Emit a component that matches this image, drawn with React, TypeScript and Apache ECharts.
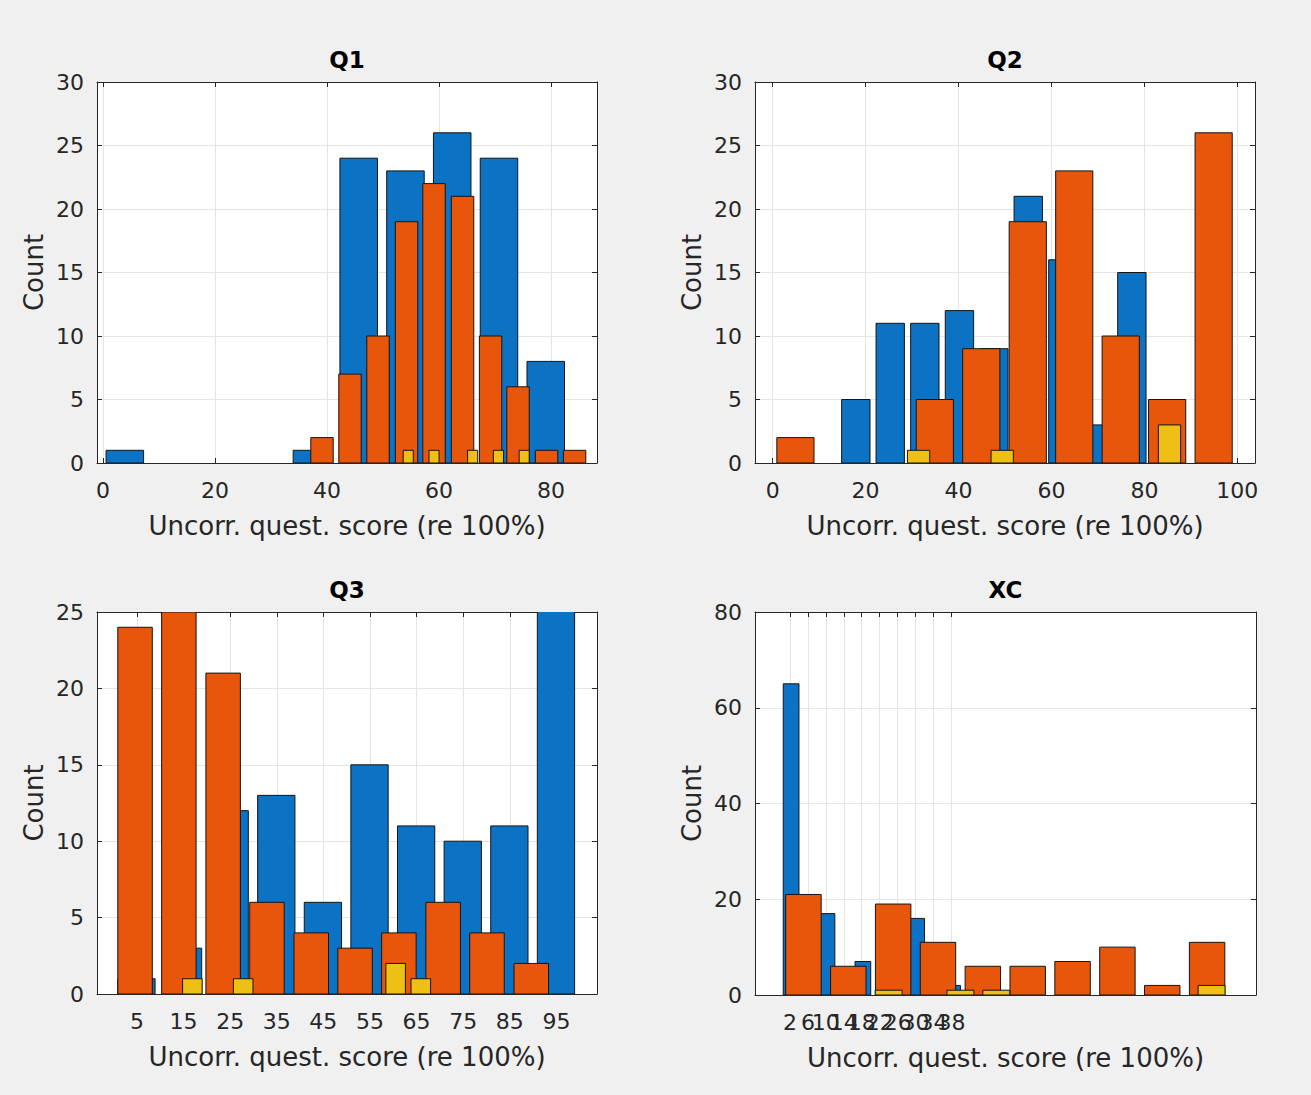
import React, { useEffect, useRef } from "react";
import * as echarts from "echarts";

// ---------- data ----------
// Q1
const q1BlueCenters = [3.9, 12.25, 20.6, 28.95, 37.3, 45.65, 54.0, 62.35, 70.7, 79.05];
const q1BlueCounts = [1, 0, 0, 0, 1, 24, 23, 26, 24, 8];
const q1OrangeCenters = [39.1, 44.1, 49.1, 54.2, 59.1, 64.2, 69.2, 74.1, 79.2, 84.2];
const q1OrangeCounts = [2, 7, 10, 19, 22, 21, 10, 6, 1, 1];
const q1YellowCenters = [54.5, 59.1, 66.0, 70.6, 75.2];
const q1YellowCounts = [1, 1, 1, 1, 1];
const q1XTicks = [0, 20, 40, 60, 80];

// Q2
const q2BlueCenters = [17.9, 25.3, 32.75, 40.2, 47.6, 55.0, 62.45, 69.9, 77.3];
const q2BlueCounts = [5, 11, 11, 12, 9, 21, 16, 3, 15];
const q2OrangeCenters = [4.9, 14.9, 24.9, 34.9, 44.9, 54.9, 64.9, 74.9, 84.9, 94.9];
const q2OrangeCounts = [2, 0, 0, 5, 9, 19, 23, 10, 5, 26];
const q2YellowCenters = [31.4, 49.4, 85.4];
const q2YellowCounts = [1, 1, 3];
const q2XTicks = [0, 20, 40, 60, 80, 100];

// Q3
const q3BlueCenters = [4.9, 14.9, 24.9, 34.9, 44.9, 54.9, 64.9, 74.9, 84.9, 94.9];
const q3BlueCounts = [1, 3, 12, 13, 6, 15, 11, 10, 11, 28];
const q3OrangeCenters = [4.6, 14.0, 23.5, 32.9, 42.4, 51.8, 61.2, 70.7, 80.1, 89.6];
const q3OrangeCounts = [24, 25, 21, 6, 4, 3, 4, 6, 4, 2];
const q3YellowCenters = [16.9, 27.8, 60.5, 65.9];
const q3YellowCounts = [1, 1, 2, 1];
const q3XTicks = [5, 15, 25, 35, 45, 55, 65, 75, 85, 95];

// XC
const xcBlueCenters = [2.25, 6.25, 10.25, 14.25, 18.25, 22.25, 26.25, 30.25, 34.25, 38.25];
const xcBlueCounts = [65, 0, 17, 0, 7, 0, 0, 16, 0, 2];
const xcOrangeCenters = [5, 15, 25, 35, 45, 55, 65, 75, 85, 95];
const xcOrangeCounts = [21, 6, 19, 11, 6, 6, 7, 10, 2, 11];
const xcYellowCenters = [24, 40, 48, 96];
const xcYellowCounts = [1, 1, 1, 2];
const xcXTicks = [2, 6, 10, 14, 18, 22, 26, 30, 34, 38];

const titles = ["Q1", "Q2", "Q3", "XC"];
const xName = "Uncorr. quest. score (re 100%)";
const yName = "Count";

// ---------- styling ----------
const BLUE = "#0b72c4";
const ORANGE = "#e8560c";
const YELLOW = "#eebf14";
const AXIS = "#262626";
const GRIDC = "#e4e4e4";
const FONT = "DejaVu Sans";

type Panel = {
  title: string;
  grid: { left: number; top: number; width: number; height: number };
  xMin: number;
  xMax: number;
  xTicks: number[];
  splitLabels?: boolean;
  yMax: number;
  yStep: number;
  bars: { centers: number[]; counts: number[]; binW: number; color: string }[];
};

const panels: Panel[] = [
  {
    title: titles[0],
    grid: { left: 97, top: 82, width: 500, height: 381 },
    xMin: -1.07,
    xMax: 88.2,
    xTicks: q1XTicks,
    yMax: 30,
    yStep: 5,
    bars: [
      { centers: q1BlueCenters, counts: q1BlueCounts, binW: 6.7, color: BLUE },
      { centers: q1OrangeCenters, counts: q1OrangeCounts, binW: 4.0, color: ORANGE },
      { centers: q1YellowCenters, counts: q1YellowCounts, binW: 1.8, color: YELLOW },
    ],
  },
  {
    title: titles[1],
    grid: { left: 755, top: 82, width: 500, height: 381 },
    xMin: -3.8,
    xMax: 103.8,
    xTicks: q2XTicks,
    yMax: 30,
    yStep: 5,
    bars: [
      { centers: q2BlueCenters, counts: q2BlueCounts, binW: 6.1, color: BLUE },
      { centers: q2OrangeCenters, counts: q2OrangeCounts, binW: 8.0, color: ORANGE },
      { centers: q2YellowCenters, counts: q2YellowCounts, binW: 4.8, color: YELLOW },
    ],
  },
  {
    title: titles[2],
    grid: { left: 97, top: 612, width: 500, height: 382 },
    xMin: -3.56,
    xMax: 103.7,
    xTicks: q3XTicks,
    yMax: 25,
    yStep: 5,
    bars: [
      { centers: q3BlueCenters, counts: q3BlueCounts, binW: 8.0, color: BLUE },
      { centers: q3OrangeCenters, counts: q3OrangeCounts, binW: 7.4, color: ORANGE },
      { centers: q3YellowCenters, counts: q3YellowCounts, binW: 4.2, color: YELLOW },
    ],
  },
  {
    title: titles[3],
    grid: { left: 755, top: 612, width: 501, height: 383 },
    xMin: -5.8,
    xMax: 105.9,
    xTicks: xcXTicks,
    splitLabels: true,
    yMax: 80,
    yStep: 20,
    bars: [
      { centers: xcBlueCenters, counts: xcBlueCounts, binW: 3.5, color: BLUE },
      { centers: xcOrangeCenters, counts: xcOrangeCounts, binW: 7.9, color: ORANGE },
      { centers: xcYellowCenters, counts: xcYellowCounts, binW: 6.0, color: YELLOW },
    ],
  },
];

const labelStyle = {
  fontSize: 22,
  fontFamily: FONT,
  color: AXIS,
};

function buildOption() {
  const grid: any[] = [];
  const xAxis: any[] = [];
  const yAxis: any[] = [];
  const series: any[] = [];
  const graphic: any[] = [];

  panels.forEach((p, i) => {
    grid.push({
      ...p.grid,
      show: true,
      backgroundColor: "#ffffff",
      borderWidth: 0,
      containLabel: false,
    });
    const axisLine = { show: true, onZero: false, lineStyle: { color: AXIS, width: 1 } };
    const xIdx = xAxis.length;
    // bottom x
    xAxis.push({
      type: "value",
      gridIndex: i,
      position: "bottom",
      min: p.xMin,
      max: p.xMax,
      axisLine,
      axisTick: { show: true, inside: true, length: 5, customValues: p.xTicks, lineStyle: { color: AXIS } },
      axisLabel: {
        show: !p.splitLabels,
        customValues: p.xTicks,
        ...labelStyle,
        margin: 16,
        hideOverlap: false,
      },
      splitLine: { show: true, lineStyle: { color: GRIDC, width: 1 } },
      name: xName,
      nameLocation: "middle",
      nameGap: 50,
      nameTextStyle: { fontSize: 26, fontFamily: FONT, color: AXIS },
    });
    // top x
    xAxis.push({
      type: "value",
      gridIndex: i,
      position: "top",
      min: p.xMin,
      max: p.xMax,
      axisLine,
      axisTick: { show: true, inside: true, length: 5, customValues: p.xTicks, lineStyle: { color: AXIS } },
      axisLabel: { show: false },
      splitLine: { show: false },
    });
    // crowded tick labels: two label-only axes (alternate ticks) so none is dropped
    if (p.splitLabels) {
      [0, 1].forEach((parity) => {
        const vals = p.xTicks.filter((_, k) => k % 2 === parity);
        xAxis.push({
          type: "value",
          gridIndex: i,
          position: "bottom",
          min: p.xMin,
          max: p.xMax,
          axisLine: { show: false, onZero: false },
          axisTick: { show: false, customValues: vals },
          axisLabel: { show: true, customValues: vals, ...labelStyle, margin: 16, hideOverlap: false },
          splitLine: { show: false },
        });
      });
    }
    const yIdx = yAxis.length;
    // left y
    yAxis.push({
      type: "value",
      gridIndex: i,
      position: "left",
      min: 0,
      max: p.yMax,
      interval: p.yStep,
      axisLine,
      axisTick: { show: true, inside: true, length: 5, lineStyle: { color: AXIS } },
      axisLabel: { show: true, ...labelStyle, margin: 13 },
      splitLine: { show: true, lineStyle: { color: GRIDC, width: 1 } },
      name: yName,
      nameLocation: "middle",
      nameGap: 50,
      nameRotate: 90,
      nameTextStyle: { fontSize: 26, fontFamily: FONT, color: AXIS },
    });
    // right y
    yAxis.push({
      type: "value",
      gridIndex: i,
      position: "right",
      min: 0,
      max: p.yMax,
      interval: p.yStep,
      axisLine,
      axisTick: { show: true, inside: true, length: 5, lineStyle: { color: AXIS } },
      axisLabel: { show: false },
      splitLine: { show: false },
    });

    p.bars.forEach((b) => {
      const binW = b.binW;
      const color = b.color;
      series.push({
        type: "custom",
        xAxisIndex: xIdx,
        yAxisIndex: yIdx,
        clip: true,
        encode: { x: 0, y: 1 },
        data: b.centers.map((c, k) => [c, b.counts[k]]).filter((d) => d[1] > 0),
        renderItem: (params: any, api: any) => {
          const c = api.value(0);
          const v = api.value(1);
          const a = api.coord([c - binW / 2, v]);
          const z = api.coord([c + binW / 2, 0]);
          return {
            type: "rect",
            shape: { x: a[0], y: a[1], width: z[0] - a[0], height: z[1] - a[1] },
            style: { fill: color, stroke: "#151515", lineWidth: 1 },
          };
        },
      });
    });

    graphic.push({
      type: "text",
      x: p.grid.left + p.grid.width / 2,
      y: p.grid.top - 22,
      style: {
        text: p.title,
        align: "center",
        verticalAlign: "middle",
        font: `bold 23px "${FONT}"`,
        fill: "#000000",
      },
    });
  });

  return {
    animation: false,
    backgroundColor: "#f0f0f0",
    grid,
    xAxis,
    yAxis,
    series,
    graphic,
  };
}

export default function App() {
  const ref = useRef<HTMLDivElement>(null);
  useEffect(() => {
    if (!ref.current) return;
    const chart = echarts.init(ref.current, undefined, { renderer: "svg" });
    chart.setOption(buildOption() as any);
    return () => chart.dispose();
  }, []);
  return (
    <div
      ref={ref}
      style={{ position: "fixed", left: 0, top: 0, width: 1311, height: 1095 }}
    />
  );
}
